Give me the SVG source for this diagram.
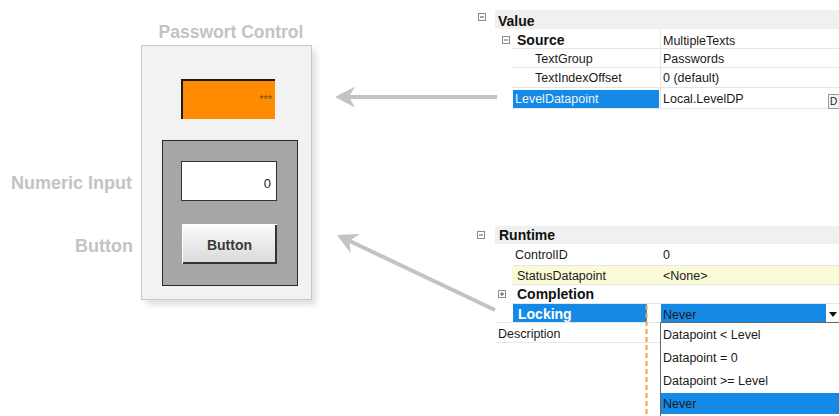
<svg xmlns="http://www.w3.org/2000/svg" width="839" height="416" viewBox="0 0 839 416">
<style>
  .lbl{font-family:"Liberation Sans",Arial,sans-serif;font-weight:bold;fill:#c3c3c3}
  .pg{font-family:"Liberation Sans",Arial,sans-serif;font-size:12.5px;fill:#1a1a1a}
  .pgb{font-family:"Liberation Sans",Arial,sans-serif;font-size:14px;font-weight:bold;fill:#111}
  .hdr{fill:#f0f0f0}
  .sep{stroke:#e6e6e6;stroke-width:1}
  .sel{fill:#1589e6}
  .box{fill:#fff;stroke:#8a8a8a;stroke-width:1}
  .conn{stroke:#c3c3c3;stroke-width:4;fill:none;marker-end:url(#ah)}
</style>
<defs>
  <marker id="ah" viewBox="-8 -12 24 24" refX="0" refY="0" markerWidth="24" markerHeight="24" markerUnits="userSpaceOnUse" orient="auto">
    <path d="M14,0 L-6,-10.5 L0,0 L-6,10.5 Z" fill="#c3c3c3"/>
  </marker>
  <linearGradient id="btn" x1="0" y1="0" x2="0" y2="1">
    <stop offset="0" stop-color="#fbfbfb"/>
    <stop offset="1" stop-color="#d9d9d9"/>
  </linearGradient>
  <filter id="sh" x="-10%" y="-10%" width="130%" height="130%">
    <feGaussianBlur stdDeviation="3"/>
  </filter>
</defs>
<rect width="839" height="416" fill="#fff"/>

<g id="password-control">
  <text class="lbl" x="231" y="38" font-size="17.5" text-anchor="middle">Passwort Control</text>
  <rect x="146" y="50" width="170" height="255" fill="#000" opacity="0.12" filter="url(#sh)"/>
  <rect x="141.5" y="45.5" width="170" height="254" fill="#f2f2f2" stroke="#c8c8c8"/>
</g>

<g id="password-field">
  <rect x="181" y="79" width="94" height="40" fill="#ff8c00"/>
  <path d="M181,80 H275 M182,79 V119" stroke="#1a1a1a" stroke-width="2"/>
  <text x="272" y="103" font-family="Liberation Sans,Arial,sans-serif" font-size="11" fill="#7a4a10" text-anchor="end">***</text>
</g>

<g id="gray-frame">
  <rect x="162.5" y="140.5" width="135" height="145" fill="#a6a6a6" stroke="#2a2a2a"/>
</g>

<g id="numeric-input">
  <text class="lbl" x="132" y="189" font-size="18" text-anchor="end">Numeric Input</text>
  <rect x="181.5" y="161.5" width="95" height="39" fill="#fff" stroke="#333"/>
  <text x="271" y="188" font-family="Liberation Sans,Arial,sans-serif" font-size="13" fill="#222" text-anchor="end">0</text>
</g>

<g id="button">
  <text class="lbl" x="133" y="252" font-size="18" text-anchor="end">Button</text>
  <rect x="182" y="224" width="95" height="40" fill="url(#btn)"/>
  <path d="M183,263 H277 M276,225 V264" stroke="#333" stroke-width="2"/>
  <path d="M182,224.5 H276 M182.5,224 V263" stroke="#fff" stroke-width="1"/>
  <text x="229.5" y="250" font-family="Liberation Sans,Arial,sans-serif" font-size="14" font-weight="bold" fill="#3a3a3a" text-anchor="middle">Button</text>
</g>

<g id="value-grid">
  <rect class="hdr" x="495" y="10" width="344" height="19"/>
  <rect class="box" x="478.5" y="13.5" width="7" height="7"/>
  <path d="M480,17 H484" stroke="#555"/>
  <text class="pgb" x="498" y="26">Value</text>
  <line class="sep" x1="512" y1="48.5" x2="839" y2="48.5"/>
  <line class="sep" x1="512" y1="67.5" x2="839" y2="67.5"/>
  <line class="sep" x1="512" y1="87.5" x2="839" y2="87.5"/>
  <line class="sep" x1="512" y1="108.5" x2="839" y2="108.5"/>
  <line class="sep" x1="660.5" y1="29" x2="660.5" y2="108"/>
  <rect class="box" x="502.5" y="36.5" width="7" height="7"/>
  <path d="M504,40 H508" stroke="#555"/>
  <text class="pgb" x="517" y="45">Source</text>
  <text class="pg" x="663" y="45">MultipleTexts</text>
  <text class="pg" x="535" y="63">TextGroup</text>
  <text class="pg" x="663" y="63">Passwords</text>
  <text class="pg" x="535" y="82">TextIndexOffset</text>
  <text class="pg" x="663" y="82">0 (default)</text>
  <rect class="sel" x="513" y="90" width="146" height="18"/>
  <text class="pg" x="515" y="103" style="fill:#eaf5ff">LevelDatapoint</text>
  <text class="pg" x="663" y="103">Local.LevelDP</text>
  <rect x="828.5" y="94.5" width="12" height="14" fill="#f4f4f4" stroke="#9a9a9a"/>
  <text class="pg" x="830" y="105" style="font-size:10px">D</text>
</g>

<g id="runtime-grid">
  <rect class="hdr" x="495" y="226" width="344" height="18"/>
  <rect class="box" x="477.5" y="231.5" width="7" height="7"/>
  <path d="M479,235 H483" stroke="#555"/>
  <text class="pgb" x="499" y="240" font-size="13.5">Runtime</text>
  <text class="pg" x="515" y="259">ControlID</text>
  <text class="pg" x="663" y="259">0</text>
  <line class="sep" x1="512" y1="265.5" x2="839" y2="265.5"/>
  <rect x="512" y="266" width="327" height="18" fill="#fbfbd8"/>
  <text class="pg" x="517" y="280">StatusDatapoint</text>
  <text class="pg" x="663" y="280">&lt;None&gt;</text>
  <line class="sep" x1="512" y1="284.5" x2="839" y2="284.5"/>
  <rect class="box" x="498.5" y="290.5" width="7" height="7"/>
  <path d="M500,294 H504 M502,292 V296" stroke="#555"/>
  <text class="pgb" x="517" y="299">Completion</text>
  <line class="sep" x1="512" y1="303.5" x2="839" y2="303.5"/>
  <rect class="sel" x="513" y="304" width="134" height="18"/>
  <text class="pgb" x="518" y="319" style="fill:#fff">Locking</text>
  <rect class="sel" x="661" y="304" width="165" height="18"/>
  <text class="pg" x="663" y="319">Never</text>
  <rect x="826" y="304" width="13" height="18" fill="#fff"/>
  <path d="M829,312 H837 L833,317 Z" fill="#111"/>
  <line class="sep" x1="495" y1="322.5" x2="660" y2="322.5"/>
  <text class="pg" x="498" y="338">Description</text>
  <line class="sep" x1="495" y1="342.5" x2="660" y2="342.5"/>
</g>

<g id="locking-dropdown">
  <rect x="660.5" y="322.5" width="180" height="95" fill="#fff" stroke="#646464"/>
  <text class="pg" x="663" y="339">Datapoint &lt; Level</text>
  <text class="pg" x="663" y="362">Datapoint = 0</text>
  <text class="pg" x="663" y="385">Datapoint &gt;= Level</text>
  <rect class="sel" x="661" y="393" width="178" height="21"/>
  <text class="pg" x="663" y="408">Never</text>
</g>

<g id="connectors">
  <line class="conn" x1="497" y1="97" x2="349" y2="97"/>
  <line class="conn" x1="495" y1="310" x2="349.6" y2="241"/>
  <line x1="646.5" y1="305" x2="646.5" y2="416" stroke="#f5a030" stroke-width="2" stroke-dasharray="5,3"/>
</g>
</svg>
